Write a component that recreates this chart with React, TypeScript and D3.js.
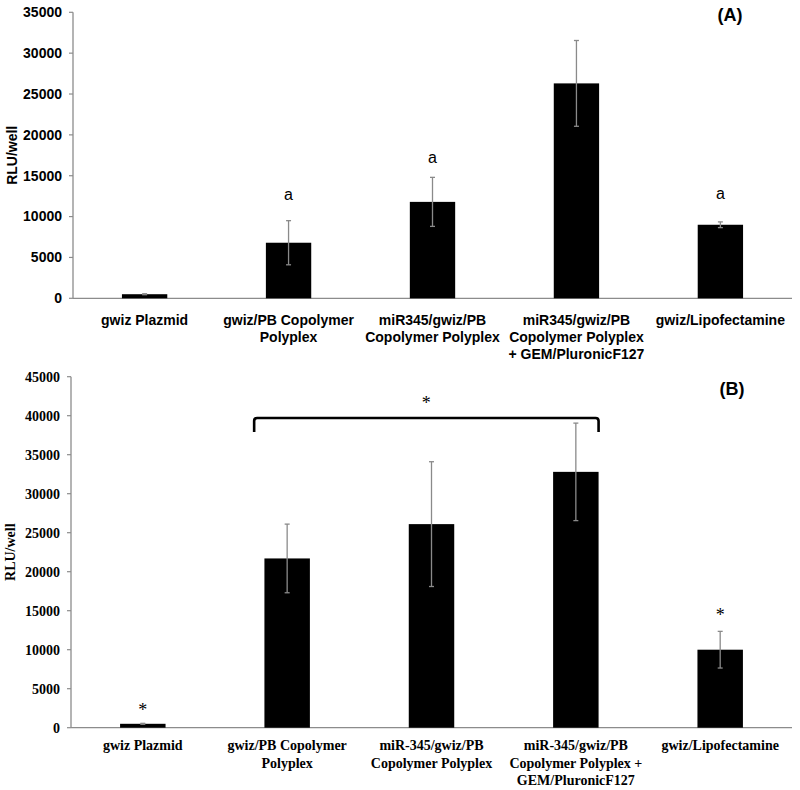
import React from "react";
import * as d3 from "d3";

const catsA = ["gwiz Plazmid", "gwiz/PB Copolymer|Polyplex", "miR345/gwiz/PB|Copolymer Polyplex", "miR345/gwiz/PB|Copolymer Polyplex|+ GEM/PluronicF127", "gwiz/Lipofectamine"];
const valsA = [500, 6800, 11800, 26300, 9000];
const errA = [60, 2700, 3000, 5250, 350];
const marksA = ["", "a", "a", "", "a"];
const markYA = [0, 12700, 17300, 0, 12800];
const ticksA = [0, 5000, 10000, 15000, 20000, 25000, 30000, 35000];

const catsB = ["gwiz Plazmid", "gwiz/PB Copolymer|Polyplex", "miR-345/gwiz/PB|Copolymer Polyplex", "miR-345/gwiz/PB|Copolymer Polyplex +|GEM/PluronicF127", "gwiz/Lipofectamine"];
const valsB = [500, 21700, 26100, 32800, 10000];
const errB = [60, 4400, 8000, 6250, 2350];
const marksB = ["*", "", "", "", "*"];
const markYB = [2700, 0, 0, 0, 14830];
const ticksB = [0, 5000, 10000, 15000, 20000, 25000, 30000, 35000, 40000, 45000];

type PanelProps = {
  cats: string[]; vals: number[]; errs: number[]; marks: string[]; markY: number[]; ticks: number[];
  x0: number; x1: number; yTop: number; yBot: number; maxV: number; font: string; label: string;
  labelX: number; tag: string; tagX: number; tagY: number; labY: number[]; markSize: number; markDy: string;
  children?: React.ReactNode;
};

function Panel(p: PanelProps) {
  const x = d3.scaleBand<string>().domain(p.cats).range([p.x0, p.x1]).paddingInner(0.685).paddingOuter(0.34);
  const y = d3.scaleLinear().domain([0, p.maxV]).range([p.yBot, p.yTop]);
  const axisCol = "#8c8c8c";
  return (
    <g fontFamily={p.font} fontWeight="bold">
      <line x1={p.x0} x2={p.x0} y1={p.yTop} y2={p.yBot} stroke={axisCol} strokeWidth={1.3} />
      <line x1={p.x0} x2={p.x1} y1={p.yBot} y2={p.yBot} stroke={axisCol} strokeWidth={1.3} />
      {p.ticks.map((t) => (
        <g key={t}>
          <line x1={p.x0 - 4} x2={p.x0} y1={y(t)} y2={y(t)} stroke={axisCol} strokeWidth={1.2} />
          <text x={p.x0 - 11} y={y(t)} dy="0.35em" textAnchor="end" fontSize={14} fill="#000">{t}</text>
        </g>
      ))}
      <text transform={`translate(${p.labelX},${(p.yTop + p.yBot) / 2}) rotate(-90)`} textAnchor="middle" fontSize={14} fill="#000">{p.label}</text>
      {p.cats.map((c, i) => {
        const bx = x(c)!;
        const bw = x.bandwidth();
        const cx = bx + bw / 2;
        const lines = c.split("|");
        return (
          <g key={c}>
            <rect x={bx} y={y(p.vals[i])} width={bw} height={p.yBot - y(p.vals[i])} fill="#000" />
            <line x1={cx} x2={cx} y1={y(p.vals[i] + p.errs[i])} y2={y(p.vals[i] - p.errs[i])} stroke="#8a8a8a" strokeWidth={1.3} />
            <line x1={cx - 2.5} x2={cx + 2.5} y1={y(p.vals[i] + p.errs[i])} y2={y(p.vals[i] + p.errs[i])} stroke="#8a8a8a" strokeWidth={1.3} />
            <line x1={cx - 2.5} x2={cx + 2.5} y1={y(p.vals[i] - p.errs[i])} y2={y(p.vals[i] - p.errs[i])} stroke="#8a8a8a" strokeWidth={1.3} />
            {p.marks[i] && (
              <text x={cx} y={y(p.markY[i])} dy={p.markDy} textAnchor="middle" fontSize={p.markSize} fontWeight="normal" fill="#000">{p.marks[i]}</text>
            )}
            {lines.map((l, j) => (
              <text key={j} x={cx} y={p.labY[j]} textAnchor="middle" fontSize={14} fill="#000">{l}</text>
            ))}
          </g>
        );
      })}
      <text x={p.tagX} y={p.tagY} dy="0.35em" textAnchor="middle" fontSize={18} fontFamily="Liberation Sans, Arial, sans-serif" fill="#000">{p.tag}</text>
      {p.children}
    </g>
  );
}

export default function App() {
  const yB = d3.scaleLinear().domain([0, 45000]).range([727.7, 376.7]);
  const xB = d3.scaleBand<string>().domain(catsB).range([71, 792]).paddingInner(0.685).paddingOuter(0.34);
  const bl = xB(catsB[1])! + xB.bandwidth() / 2 - 33;
  const br = xB(catsB[3])! + xB.bandwidth();
  const bTop = 418;
  const bBot = 432;
  const r = 3;
  return (
    <svg width={800} height={790} style={{ position: "absolute", left: 0, top: 0, background: "#fff" }}>
      <rect width={800} height={790} fill="#fff" />
      <Panel cats={catsA} vals={valsA} errs={errA} marks={marksA} markY={markYA} ticks={ticksA}
        x0={73} x1={792} yTop={12.3} yBot={298.3} maxV={35000} font="Liberation Sans, Arial, sans-serif"
        label="RLU/well" labelX={17} tag="(A)" tagX={730} tagY={15} labY={[325, 342, 359]} markSize={16} markDy="0.35em" />
      <Panel cats={catsB} vals={valsB} errs={errB} marks={marksB} markY={markYB} ticks={ticksB}
        x0={71} x1={792} yTop={376.7} yBot={727.7} maxV={45000} font="Liberation Serif, Times New Roman, serif"
        label="RLU/well" labelX={15} tag="(B)" tagX={732} tagY={389} labY={[750, 768, 785]} markSize={18} markDy="0.5em">
        <path d={`M${bl},${bBot} L${bl},${bTop + r} Q${bl},${bTop} ${bl + r},${bTop} L${br - r},${bTop} Q${br},${bTop} ${br},${bTop + r} L${br},${bBot}`}
          fill="none" stroke="#000" strokeWidth={2.6} />
        <text x={(bl + br) / 2} y={yB(42000)} dy="0.5em" textAnchor="middle" fontSize={18} fontWeight="normal" fill="#000">*</text>
      </Panel>
    </svg>
  );
}
